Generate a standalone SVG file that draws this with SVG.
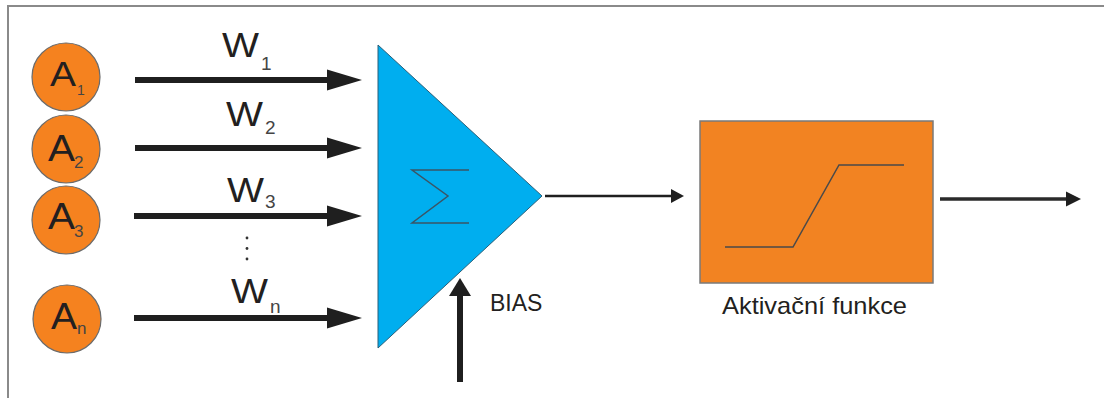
<svg xmlns="http://www.w3.org/2000/svg" width="1104" height="398" viewBox="0 0 1104 398">
  <style>
    .frame { fill: none; stroke: #8a8a8a; stroke-width: 2; }
    .neuron { fill: #F5821F; stroke: #6b6b6b; stroke-width: 1.2; }
    .lbl { font-family: "Liberation Sans", Arial, sans-serif; fill: #231f20; }
    .sub { font-family: "Liberation Sans", Arial, sans-serif; fill: #444; }
    .wire-in { stroke: #1f1f1f; stroke-width: 6; fill: none; }
    .wire { stroke: #1f1f1f; stroke-width: 2.5; fill: none; }
    .wire-out { stroke: #2a2a2a; stroke-width: 3.5; fill: none; }
    .head { fill: #1f1f1f; }
    .glyph { fill: none; stroke: #3a5566; stroke-width: 1.5; }
    .curve { fill: none; stroke: #4a4a4a; stroke-width: 1.5; }
  </style>

  <rect class="frame" x="8" y="6" width="1120" height="420"/>

  <!-- input neurons -->
  <g id="node-a1">
    <circle class="neuron" cx="66" cy="77" r="34"/>
    <text class="lbl" x="50" y="86" font-size="35" textLength="26" lengthAdjust="spacingAndGlyphs">A</text>
    <text class="sub" x="77" y="95" font-size="14">1</text>
  </g>
  <g id="node-a2">
    <circle class="neuron" cx="66" cy="149" r="34"/>
    <text class="lbl" x="48" y="161" font-size="36" textLength="27" lengthAdjust="spacingAndGlyphs">A</text>
    <text class="sub" x="74" y="168" font-size="17">2</text>
  </g>
  <g id="node-a3">
    <circle class="neuron" cx="66" cy="220" r="34"/>
    <text class="lbl" x="48" y="229" font-size="36" textLength="27" lengthAdjust="spacingAndGlyphs">A</text>
    <text class="sub" x="74" y="237" font-size="17">3</text>
  </g>
  <g id="node-an">
    <circle class="neuron" cx="67" cy="319" r="34"/>
    <text class="lbl" x="51" y="329" font-size="36" textLength="26" lengthAdjust="spacingAndGlyphs">A</text>
    <text class="sub" x="77" y="334" font-size="17">n</text>
  </g>

  <!-- summation unit -->
  <g id="node-sum">
    <polygon points="378,45 542,196 378,348" fill="#00AEEF" stroke="#2b5f78" stroke-width="1"/>
    <polyline class="glyph" points="469,170 412,170 448,196 412,223 469,223"/>
  </g>

  <!-- activation function -->
  <g id="node-activation">
    <rect x="700" y="121" width="233" height="162" fill="#F28322" stroke="#7a7a7a" stroke-width="1.5"/>
    <polyline class="curve" points="725,247 793,247 839,165 904,165"/>
    <text class="lbl" x="722" y="314" font-size="24" fill="#333" textLength="185" lengthAdjust="spacingAndGlyphs">Aktivační funkce</text>
  </g>

  <!-- connectors -->
  <g id="connectors">
    <!-- weighted inputs -->
    <line class="wire-in" x1="135" y1="80" x2="330" y2="80"/>
    <polygon class="head" points="327,69.5 362,80 327,90.5"/>
    <line class="wire-in" x1="135" y1="148" x2="330" y2="148"/>
    <polygon class="head" points="327,137.5 362,148 327,158.5"/>
    <line class="wire-in" x1="134" y1="216" x2="330" y2="216"/>
    <polygon class="head" points="327,205.5 362,216 327,226.5"/>
    <line class="wire-in" x1="134" y1="318" x2="330" y2="318"/>
    <polygon class="head" points="327,307.5 362,318 327,328.5"/>

    <!-- bias -->
    <line class="wire-in" x1="460" y1="382" x2="460" y2="292" stroke-width="7"/>
    <polygon class="head" points="449,296 460,278 471,296"/>

    <!-- sum to activation -->
    <line class="wire" x1="545" y1="196" x2="674" y2="196"/>
    <polygon class="head" points="671,189 684,196 671,203"/>

    <!-- output -->
    <line class="wire-out" x1="940" y1="199" x2="1068" y2="199"/>
    <polygon class="head" points="1066,191.5 1081,199 1066,206.5"/>
  </g>

  <!-- weight labels -->
  <g id="weights">
    <text class="lbl" x="222" y="57" font-size="35" textLength="37" lengthAdjust="spacingAndGlyphs">W</text>
    <text class="sub" x="261" y="70" font-size="19">1</text>
    <text class="lbl" x="226" y="126" font-size="35" textLength="37" lengthAdjust="spacingAndGlyphs">W</text>
    <text class="sub" x="265" y="134" font-size="19">2</text>
    <text class="lbl" x="227" y="202" font-size="35" textLength="37" lengthAdjust="spacingAndGlyphs">W</text>
    <text class="sub" x="265" y="208" font-size="19">3</text>
    <text class="lbl" x="231" y="303" font-size="35" textLength="37" lengthAdjust="spacingAndGlyphs">W</text>
    <text class="sub" x="270" y="313" font-size="19">n</text>
    <circle cx="247" cy="238" r="1.4" fill="#333"/>
    <circle cx="247" cy="248.5" r="1.4" fill="#333"/>
    <circle cx="247" cy="259" r="1.4" fill="#333"/>
    <text class="lbl" x="490" y="311" font-size="23" fill="#333">BIAS</text>
  </g>
</svg>
